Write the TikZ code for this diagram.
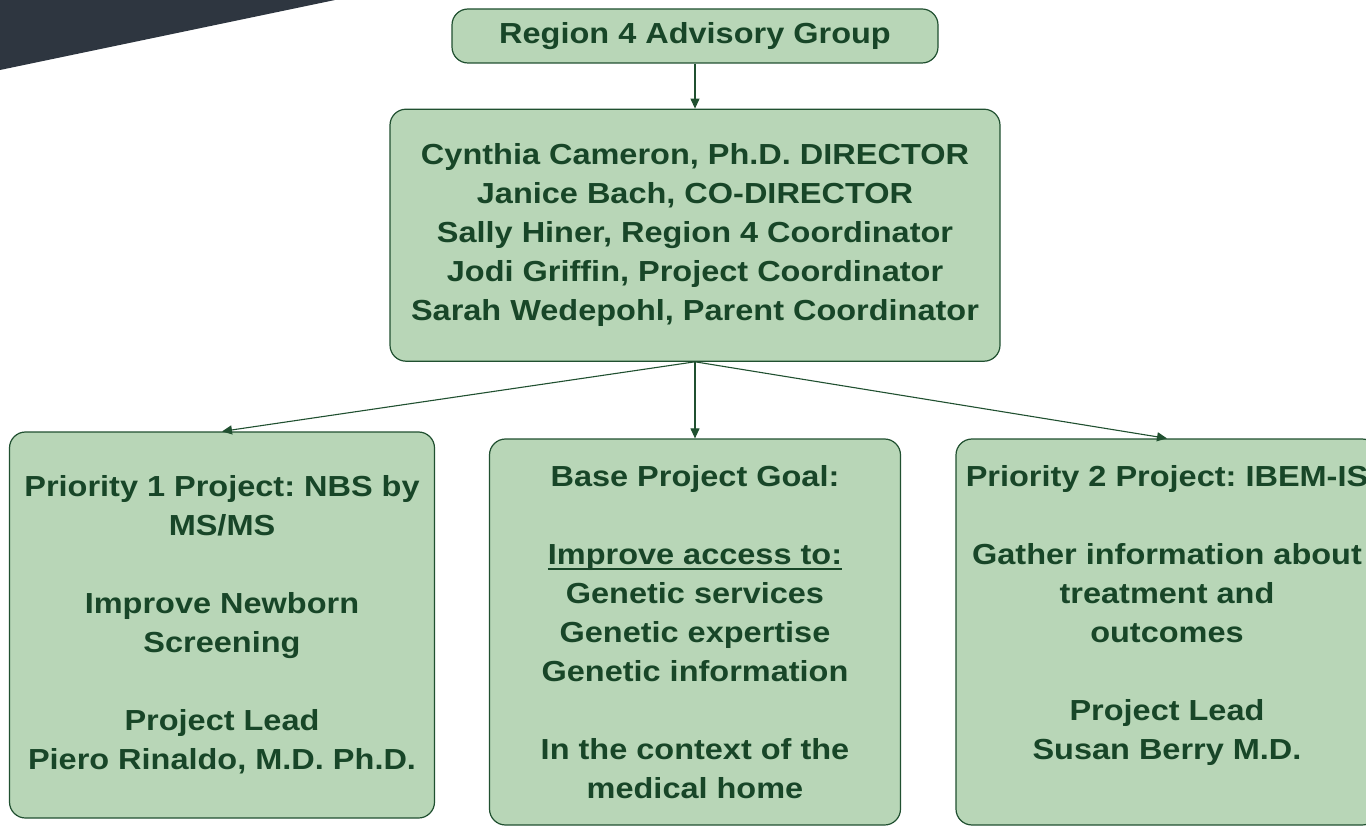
\documentclass[tikz,border=0pt]{standalone}
\usepackage{fontspec}
\setmainfont{Liberation Sans}[FakeStretch=1.12]
\usetikzlibrary{arrows.meta, positioning}

\definecolor{boxfill}{RGB}{184,214,183}
\definecolor{boxline}{RGB}{32,80,48}
\definecolor{boxtext}{RGB}{24,70,40}
\definecolor{slate}{RGB}{46,54,64}

% thick underline
\newsavebox{\ulsave}
\newcommand{\thickul}[1]{\sbox{\ulsave}{#1}\rlap{\usebox{\ulsave}}\rule[-5.5pt]{\wd\ulsave}{2.3pt}}
\frenchspacing

\begin{document}
\begin{tikzpicture}[
    x=1pt, y=-1pt,
    >={Triangle[length=10pt,width=9pt]},
    font=\bfseries\fontsize{29}{39}\selectfont,
    % --- styles ---
    % green rounded boxes
    orgbox/.style={draw=boxline, line width=1.2pt, fill=boxfill, rounded corners=16pt,
        align=center, text=boxtext, inner sep=0pt},
    % project boxes (bottom row)
    projbox/.style={orgbox, minimum width=#1, minimum height=386pt},
    % connectors
    arrow/.style={->, draw=boxline, line width=1.1pt}
]

\clip (0,0) rectangle (1366,826);

% --- 1. Corner band ---
\fill[slate] (0,0) -- (335,0) -- (0,70) -- cycle;

% --- 2. Top of the chart ---
\node[orgbox, minimum width=486pt, minimum height=54pt] (Advisory) at (695,36)
    {Region 4 Advisory Group};

\node[orgbox, minimum width=610pt, minimum height=252pt, below=45pt of Advisory] (Director) {
    Cynthia Cameron, Ph.D. DIRECTOR\\
    Janice Bach, CO-DIRECTOR\\
    Sally Hiner, Region 4 Coordinator\\
    Jodi Griffin, Project Coordinator\\
    Sarah Wedepohl, Parent Coordinator
};

% --- 3. Project boxes ---
\node[projbox=425pt] (Prio1) at (222,625) {
    Priority 1 Project: NBS by\\ MS/MS\\[39pt]
    Improve Newborn\\ Screening\\[39pt]
    Project Lead\\ Piero Rinaldo, M.D. Ph.D.
};

\node[projbox=411pt] (Base) at (695,632) {
    Base Project Goal:\\[39pt]
    \thickul{Improve access to:}\\
    Genetic services\\ Genetic expertise\\ Genetic information\\[39pt]
    In the context of the\\ medical home
};

\node[projbox=422pt] (Prio2) at (1167,632) {
    Priority 2 Project: IBEM-IS\\[39pt]
    Gather information about\\ treatment and\\ outcomes\\[39pt]
    Project Lead\\ Susan Berry M.D.\\ \mbox{}
};

% --- 4. Arrows ---
\draw[arrow] (Advisory.south) -- (Director.north);
\draw[arrow] (Director.south) -- (Prio1.north);
\draw[arrow] (Director.south) -- (Base.north);
\draw[arrow] (Director.south) -- (Prio2.north);

\end{tikzpicture}
\end{document}
